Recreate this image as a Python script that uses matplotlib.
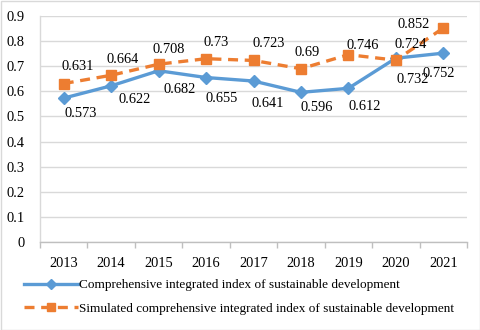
import matplotlib
matplotlib.use("Agg")
import matplotlib.pyplot as plt
from matplotlib.patches import Rectangle
from matplotlib.ticker import FixedLocator, FuncFormatter

years = ["2013", "2014", "2015", "2016", "2017", "2018", "2019", "2020", "2021"]
actual = [0.573, 0.622, 0.682, 0.655, 0.641, 0.596, 0.612, 0.732, 0.752]
simulated = [0.631, 0.664, 0.708, 0.73, 0.723, 0.69, 0.746, 0.724, 0.852]
actual_labels = ["0.573", "0.622", "0.682", "0.655", "0.641", "0.596", "0.612", "0.732", "0.752"]
simulated_labels = ["0.631", "0.664", "0.708", "0.73", "0.723", "0.69", "0.746", "0.724", "0.852"]
series_names = ["Comprehensive integrated index of sustainable development",
                "Simulated comprehensive integrated index of sustainable development"]

# label offsets in pixels (layout only)
act_off = [(17, -15), (23, -14), (21, -19), (16, -21), (14, -22), (16, -15), (16, -18), (17, -21), (-5, -20)]
sim_off = [(14, 17), (11, 16), (10, 15), (10, 16), (15, 17), (6, 16), (14, 9), (15, 16), (-30, 4)]

plt.rcParams['font.family'] = ['Liberation Serif', 'DejaVu Serif']
FS = 10.4
LFS = 9.5
BLUE = "#5B9BD5"
ORANGE = "#ED7D31"
GRID = "#D9D9D9"

fig = plt.figure(figsize=(4.8, 3.3), dpi=100)
W, H = 480, 330
ax = fig.add_axes([40 / W, 1 - 242 / H, (467 - 40) / W, (242 - 16) / H])

x = list(range(len(years)))
l1, = ax.plot(x, actual, color=BLUE, lw=2.4, marker="D", markersize=6.5, zorder=3)
l2, = ax.plot(x, simulated, color=ORANGE, lw=2.4, ls=(0, (3, 2)), marker="s", markersize=7, zorder=3)

for xi, v, t, (dx, dy) in zip(x, actual, actual_labels, act_off):
    ax.annotate(t, (xi, v), xytext=(dx, dy), textcoords="offset pixels",
                ha="center", va="center", fontsize=FS, color="#000000")
for xi, v, t, (dx, dy) in zip(x, simulated, simulated_labels, sim_off):
    ax.annotate(t, (xi, v), xytext=(dx, dy), textcoords="offset pixels",
                ha="center", va="center", fontsize=FS, color="#000000")

ax.set_xlim(-0.5, len(years) - 0.5)
ax.set_ylim(0, 0.9)
yt = [i / 10 for i in range(10)]
ax.set_yticks(yt)
ax.yaxis.set_major_formatter(FuncFormatter(lambda v, p: "0" if v == 0 else f"{v:.1f}"))
ax.yaxis.grid(True, color=GRID, lw=1)
ax.set_axisbelow(True)
ax.set_xticks(x)
ax.set_xticklabels(years)
ax.xaxis.set_minor_locator(FixedLocator([i - 0.5 for i in range(len(years) + 1)]))
ax.tick_params(axis="x", which="major", length=0, pad=11, labelsize=FS)
ax.tick_params(axis="x", which="minor", length=4, color="#BFBFBF", width=1)
ax.tick_params(axis="y", length=0, pad=11, labelsize=FS)
for s in ["top", "right"]:
    ax.spines[s].set_visible(False)
ax.spines["left"].set_color(GRID)
ax.spines["bottom"].set_color("#BFBFBF")
ax.spines["left"].set_linewidth(1)
ax.spines["bottom"].set_linewidth(1)

fig.legend([l1, l2], series_names, loc="upper left", bbox_to_anchor=(24 / W, 1 - 279 / H),
           frameon=False, fontsize=LFS, handlelength=4.1, handletextpad=0.1,
           labelspacing=0.85, borderpad=0, borderaxespad=0, markerscale=0.75)

fig.patches.append(Rectangle((0.5 / W, 0.5 / H), 1 - 1 / W, 1 - 1 / H, transform=fig.transFigure,
                             fill=False, edgecolor=GRID, lw=1))

fig.savefig("out.png", dpi=100)
